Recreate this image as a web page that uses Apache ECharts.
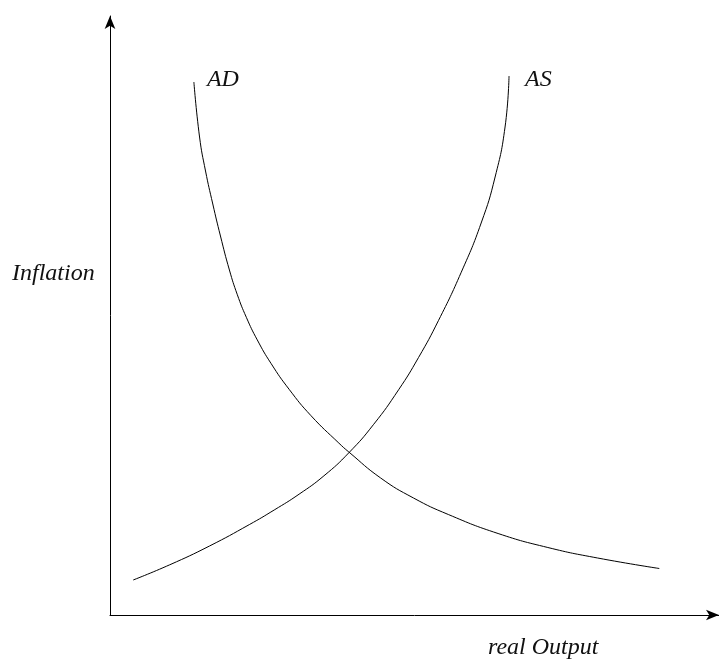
<!DOCTYPE html>
<html>
<head>
<meta charset="utf-8">
<script src="https://cdn.jsdelivr.net/npm/echarts@6/dist/echarts.min.js"></script>
<style>
html,body{margin:0;padding:0;background:#fff;}
#chart{width:719px;height:660px;}
</style>
</head>
<body>
<div id="chart"></div>
<script>
// Values on an arbitrary output / inflation scale
const adOutput = [552, 490, 440, 390, 340, 305, 272, 240, 230, 202, 180, 162, 148, 137, 128, 120, 111, 103.3, 96, 90, 84.3];
const adInflation = [46.5, 57, 67.5, 81.5, 100.5, 117, 137, 163, 171.9, 199.3, 225.7, 251.3, 275.1, 297.7, 320.2, 345, 379, 411, 444, 478, 533];
const asOutput = [23.3, 60, 100, 140, 165, 190, 215, 240, 265, 290, 310, 330, 353, 373, 387, 397, 401];
const asInflation = [35, 50.2, 69, 90.4, 105, 120.8, 139.2, 162.2, 190.7, 225.2, 257.4, 294.3, 342.8, 392, 438, 488, 539];
const seriesNames = ['AD', 'AS'];
const axisNames = { x: 'real Output', y: 'Inflation' };
const xMax = 612, yMax = 599;

const pair = (xs, ys) => xs.map((x, i) => [x, ys[i]]);
const font = '"Liberation Serif", "DejaVu Serif", serif';

const chart = echarts.init(document.getElementById('chart'));
const lineSeries = (name, data, offset) => ({
  type: 'line',
  name: name,
  data: data,
  smooth: 0.5,
  symbol: 'none',
  lineStyle: { color: '#000', width: 1 },
  endLabel: {
    show: true,
    formatter: name,
    fontFamily: font,
    fontStyle: 'italic',
    fontSize: 24,
    color: '#111',
    offset: offset
  }
});
chart.setOption({
  animation: false,
  grid: { left: 110, top: 16, right: -3, bottom: 45 },
  xAxis: {
    type: 'value', min: 0, max: xMax,
    axisLine: { show: true, lineStyle: { color: '#000', width: 1 }, symbol: ['none', 'arrow'], symbolSize: [8, 13] },
    axisTick: { show: false }, axisLabel: { show: false }, splitLine: { show: false }
  },
  yAxis: {
    type: 'value', min: 0, max: yMax,
    axisLine: { show: true, lineStyle: { color: '#000', width: 1 }, symbol: ['none', 'arrow'], symbolSize: [8, 13] },
    axisTick: { show: false }, axisLabel: { show: false }, splitLine: { show: false }
  },
  graphic: [
    { type: 'text', left: 12, top: 262, style: { text: axisNames.y, font: 'italic 24px ' + font, fill: '#111' } },
    { type: 'text', left: 488, top: 636, style: { text: axisNames.x, font: 'italic 24px ' + font, fill: '#111' } }
  ],
  series: [
    lineSeries(seriesNames[0], pair(adOutput, adInflation), [5, -2]),
    lineSeries(seriesNames[1], pair(asOutput, asInflation), [8, 4])
  ]
});
</script>
</body>
</html>
